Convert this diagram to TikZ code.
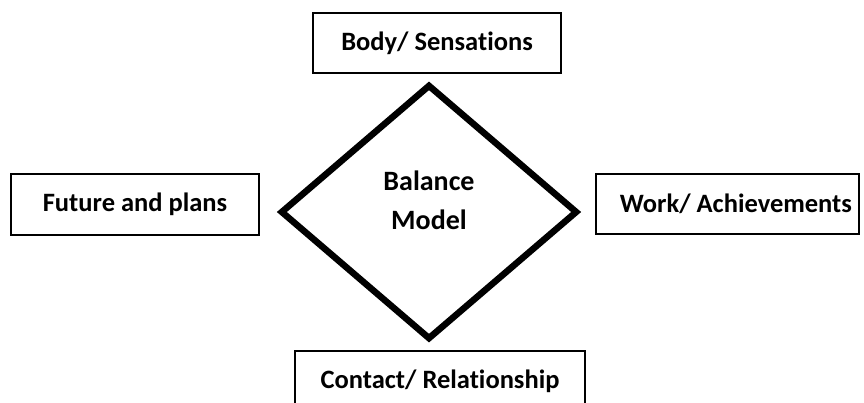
\documentclass[tikz,border=0pt]{standalone}
\usepackage{fontspec}
\setmainfont{Carlito}[Ligatures=NoCommon]
\usetikzlibrary{shapes.geometric}

\begin{document}
\begin{tikzpicture}[x=1pt,y=-1pt,
  area/.style={draw,line width=1.6pt,inner sep=0pt,minimum height=60pt,
    font=\bfseries\fontsize{26.5}{30}\selectfont},
  model/.style={draw,diamond,line width=6.5pt,inner sep=0pt,
    minimum width=297pt,minimum height=255pt}]
  \useasboundingbox (0,0) rectangle (864,403);
  \clip (0,0) rectangle (864,403);
  % centre of the model
  \node[model,label={[align=center,yshift=12pt,
      font=\bfseries\fontsize{28}{39}\selectfont]center:Balance\\Model}] (balance) at (429,212) {};
  % the four areas round it
  \node[area,minimum width=248pt] (body) at (437,43) {Body/ Sensations};
  \node[area,minimum width=248pt,minimum height=61pt] (future) at (135,204.5) {Future and plans};
  \node[area,text width=249pt,align=flush right,inner xsep=7pt] (work) at (727.5,204) {Work/ Achievements};
  \node[area,minimum width=290pt] (contact) at (440,381) {Contact/ Relationship};
\end{tikzpicture}
\end{document}
